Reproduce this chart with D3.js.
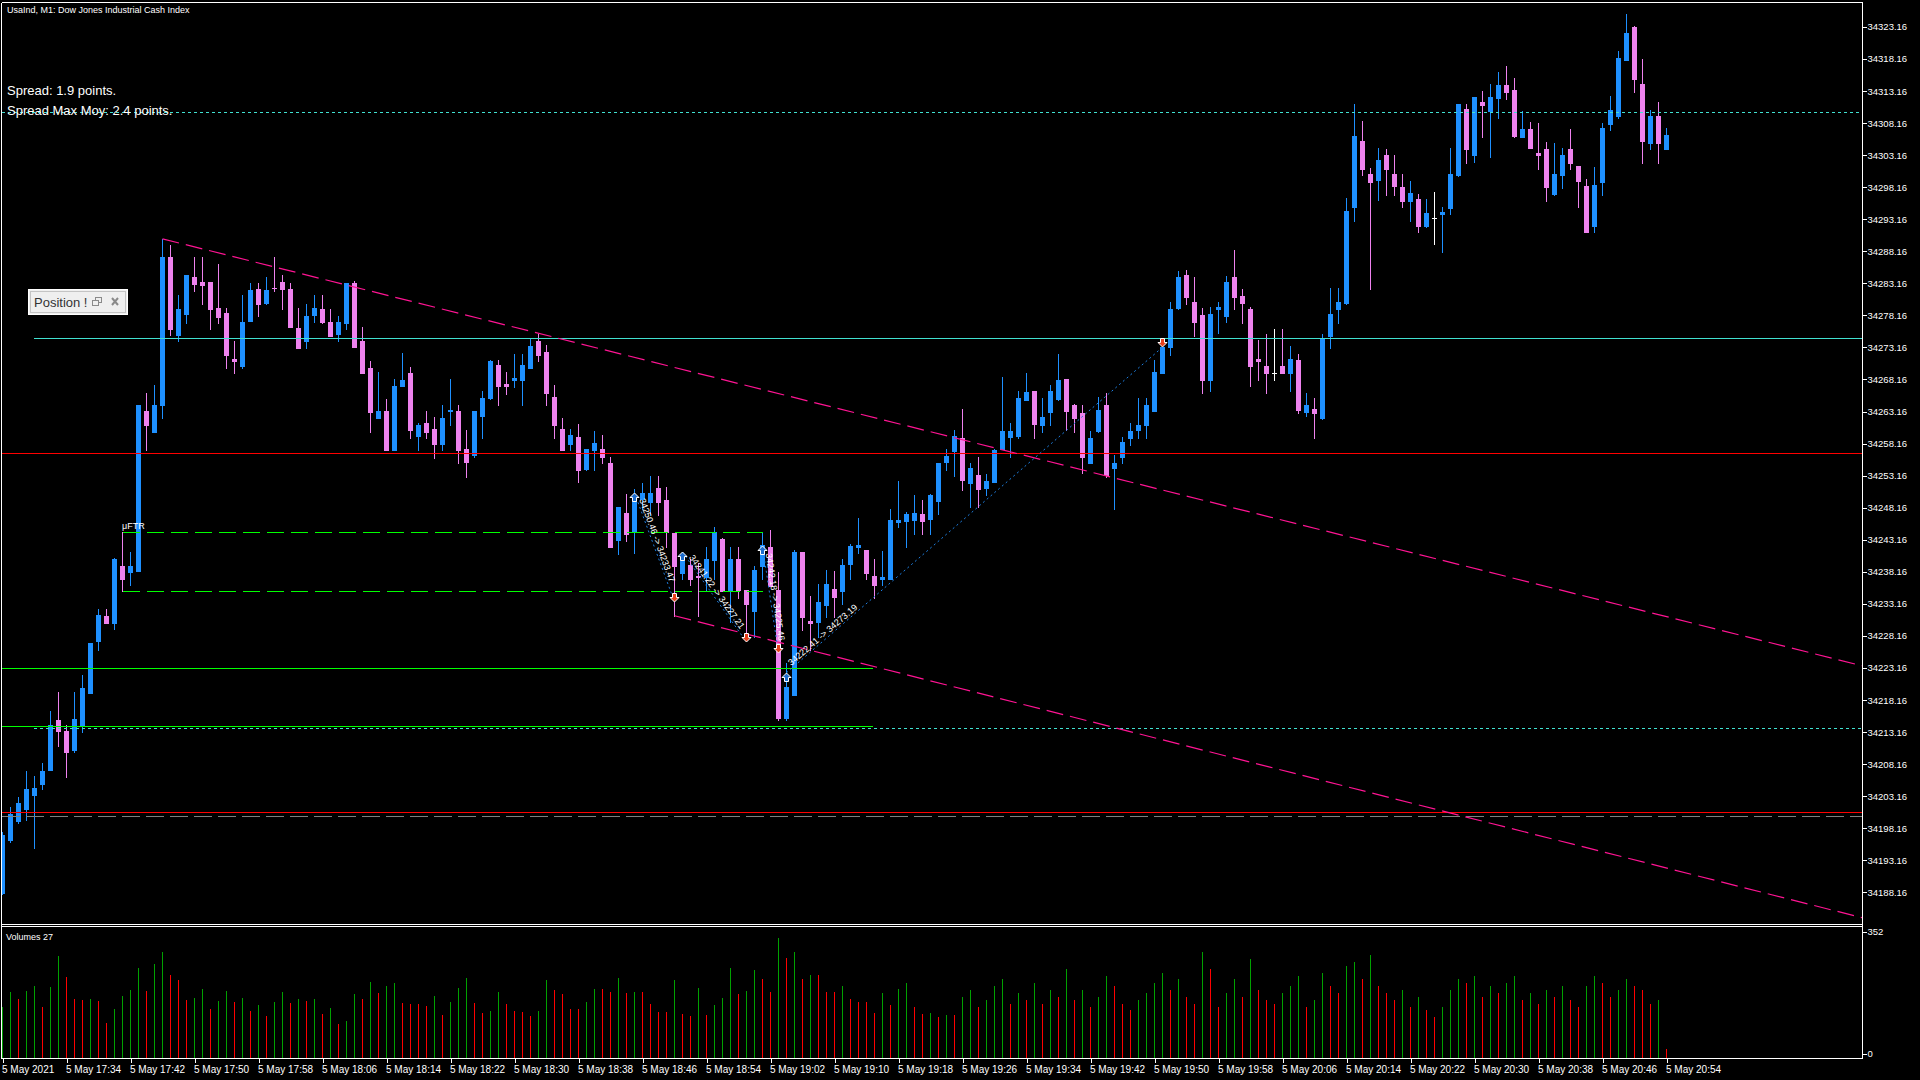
<!DOCTYPE html>
<html><head><meta charset="utf-8">
<script src="https://cdn.jsdelivr.net/npm/d3@7"></script>
<style>
html,body{margin:0;padding:0;background:#000;overflow:hidden}
svg{display:block}
text{font-family:"Liberation Sans",Arial,sans-serif}
</style>
</head><body>
<svg id="c" width="1920" height="1080"></svg>
<script>
// ---------- DATA ----------
const timeLabels = ["5 May 2021","5 May 17:34","5 May 17:42","5 May 17:50","5 May 17:58","5 May 18:06","5 May 18:14","5 May 18:22","5 May 18:30","5 May 18:38","5 May 18:46","5 May 18:54","5 May 19:02","5 May 19:10","5 May 19:18","5 May 19:26","5 May 19:34","5 May 19:42","5 May 19:50","5 May 19:58","5 May 20:06","5 May 20:14","5 May 20:22","5 May 20:30","5 May 20:38","5 May 20:46","5 May 20:54"];
const priceTicks = [34188.16,34193.16,34198.16,34203.16,34208.16,34213.16,34218.16,34223.16,34228.16,34233.16,34238.16,34243.16,34248.16,34253.16,34258.16,34263.16,34268.16,34273.16,34278.16,34283.16,34288.16,34293.16,34298.16,34303.16,34308.16,34313.16,34318.16,34323.16];
const volumeTicks = [0, 352];

const openP = [
34188.1,34196.3,34199.3,34201.1,34203.4,34205.1,34207.3,34215.1,34213.3,34210.3,
34214.3,34219.3,34227.4,34231.3,34230.2,34239.1,34238.1,34238.3,34263.3,34260.0,
34264.1,34287.3,34275.1,34278.3,34284.1,34283.3,34283.3,34279.3,34278.5,34271.4,
34270.3,34277.3,34282.3,34280.1,34282.5,34283.3,34282.3,34276.2,34274.2,34278.2,
34279.1,34277.1,34275.3,34277.0,34283.2,34274.1,34270.0,34262.1,34263.3,34257.1,
34267.1,34269.1,34259.3,34261.3,34260.4,34258.1,34263.2,34263.2,34257.3,34256.3,
34262.4,34265.2,34270.4,34267.4,34268.1,34268.1,34270.0,34274.2,34272.5,34265.4,
34260.4,34258.1,34259.2,34254.2,34257.2,34257.3,34255.2,34243.1,34247.4,34244.3,
34249.5,34249.1,34251.2,34249.3,34244.2,34238.0,34239.2,34237.5,34237.3,34240.0,
34243.3,34235.1,34240.2,34235.3,34232.1,34239.1,34242.1,34235.3,34215.3,34219.0,
34241.3,34230.5,34230.4,34233.0,34235.5,34235.2,34239.4,34242.1,34241.6,34237.5,
34237.1,34237.1,34246.0,34246.1,34246.2,34247.2,34246.4,34249.2,34255.3,34257.0,
34259.1,34252.0,34253.3,34251.3,34252.2,34257.3,34259.2,34259.3,34265.0,34266.4,
34261.1,34263.1,34265.1,34268.2,34264.1,34263.0,34255.2,34260.1,34264.1,34254.3,
34256.1,34259.1,34260.2,34261.1,34263.3,34269.1,34273.3,34279.3,34284.5,34280.2,
34278.2,34268.1,34279.2,34278.1,34284.1,34281.2,34279.1,34271.3,34270.3,34269.1,
34270.3,34269.2,34271.2,34263.1,34263.5,34262.2,34275.0,34279.1,34280.1,34295.1,
34305.4,34300.2,34299.3,34303.2,34300.2,34298.2,34296.0,34296.3,34292.1,34293.3,
34294.0,34294.9,34300.1,34310.3,34303.2,34311.4,34310.0,34312.1,34314.1,34313.3,
34306.0,34307.2,34303.5,34304.1,34297.1,34300.1,34304.1,34301.5,34298.4,34292.1,
34299.0,34308.0,34309.3,34318.0,34323.1,34314.3,34305.1,34309.3,34304.1];
const highP = [
34197.5,34201.5,34203.1,34207.1,34206.3,34208.3,34216.4,34219.4,34214.3,34219.4,
34222.1,34227.0,34232.3,34232.3,34240.3,34244.3,34241.2,34264.1,34266.1,34267.3,
34290.1,34289.1,34281.3,34284.5,34287.3,34287.3,34283.3,34286.1,34279.3,34274.1,
34281.3,34283.2,34283.2,34284.1,34287.3,34284.5,34283.2,34279.3,34280.0,34281.3,
34281.3,34279.1,34278.1,34283.2,34283.5,34276.3,34271.1,34269.3,34265.1,34268.2,
34272.3,34270.1,34261.3,34263.2,34262.3,34264.1,34268.2,34264.1,34260.3,34263.2,
34266.4,34271.2,34271.2,34269.3,34272.2,34272.2,34274.5,34275.3,34273.5,34267.3,
34262.1,34260.4,34261.2,34257.3,34260.1,34259.5,34256.1,34248.2,34250.3,34251.1,
34252.0,34253.1,34253.1,34251.4,34244.2,34241.0,34240.2,34239.5,34242.1,34245.2,
34243.5,34242.1,34242.1,34235.3,34239.1,34244.2,34244.7,34238.2,34223.9,34241.5,
34241.3,34234.4,34236.3,34238.4,34238.3,34240.2,34242.5,34246.5,34241.6,34240.2,
34241.4,34248.0,34252.3,34247.5,34250.1,34249.4,34250.3,34255.1,34257.3,34260.3,
34263.5,34255.1,34256.0,34253.4,34257.3,34268.5,34261.4,34266.3,34269.1,34266.4,
34265.2,34267.3,34272.1,34268.2,34264.4,34264.2,34260.1,34265.4,34266.1,34256.4,
34259.2,34261.4,34265.2,34265.2,34271.2,34273.3,34280.3,34285.1,34285.2,34284.1,
34279.3,34279.4,34280.3,34284.3,34288.4,34282.2,34279.4,34274.3,34275.3,34276.1,
34276.1,34273.4,34272.2,34266.1,34265.2,34275.2,34282.4,34282.4,34296.4,34311.2,
34308.5,34301.1,34304.2,34304.1,34303.2,34300.2,34299.1,34297.1,34296.3,34297.4,
34295.1,34304.2,34311.2,34311.2,34312.2,34313.2,34314.3,34316.1,34317.1,34315.2,
34310.0,34308.3,34308.1,34305.2,34305.0,34304.2,34307.2,34301.5,34299.4,34301.3,
34308.1,34312.4,34319.4,34325.2,34323.3,34318.2,34310.2,34311.4,34307.4];
const lowP = [
34187.9,34196.0,34198.9,34199.5,34195.1,34204.3,34207.3,34211.0,34206.1,34210.0,
34213.1,34219.3,34226.0,34230.1,34229.3,34235.1,34236.1,34238.3,34257.1,34260.0,
34262.1,34275.1,34274.2,34277.0,34282.0,34280.0,34276.1,34277.0,34270.0,34269.1,
34270.0,34277.3,34278.1,34280.0,34282.0,34279.1,34276.3,34273.0,34273.1,34277.1,
34277.0,34274.9,34274.1,34276.0,34273.3,34269.1,34260.0,34262.1,34257.1,34257.1,
34267.1,34259.0,34257.1,34259.0,34255.9,34257.1,34261.0,34255.1,34253.0,34256.1,
34259.1,34265.1,34264.1,34265.9,34267.0,34264.2,34270.0,34271.0,34264.1,34259.1,
34257.1,34257.1,34252.2,34254.0,34254.0,34255.1,34242.1,34241.0,34243.0,34241.1,
34248.0,34247.0,34247.0,34242.1,34231.3,34237.1,34236.1,34231.2,34235.1,34237.1,
34235.1,34230.4,34234.0,34227.5,34228.0,34237.1,34236.0,34215.1,34215.1,34219.0,
34229.1,34226.0,34228.0,34231.1,34231.1,34233.2,34237.1,34241.1,34237.1,34234.1,
34236.1,34237.1,34245.1,34242.1,34244.0,34244.0,34244.0,34247.2,34254.0,34253.1,
34250.9,34248.2,34248.2,34250.1,34252.2,34257.3,34256.1,34259.1,34265.0,34259.1,
34260.0,34261.1,34265.0,34260.3,34260.0,34253.5,34255.2,34260.0,34253.0,34248.0,
34255.1,34258.0,34259.1,34259.1,34263.3,34269.1,34272.0,34279.1,34279.9,34274.9,
34266.1,34266.3,34275.4,34277.2,34279.1,34277.0,34267.2,34268.0,34266.1,34268.1,
34269.1,34266.4,34263.0,34262.4,34259.1,34262.0,34273.1,34277.0,34280.0,34292.9,
34300.1,34282.3,34296.2,34296.9,34296.9,34295.0,34292.9,34291.1,34292.0,34289.3,
34288.1,34294.0,34299.9,34302.0,34302.1,34306.0,34302.9,34309.0,34311.9,34306.0,
34306.0,34304.2,34301.0,34296.0,34296.9,34298.1,34301.0,34295.0,34291.1,34291.1,
34296.9,34307.0,34309.0,34318.0,34313.0,34302.0,34304.1,34302.0,34304.1];
const closeP = [
34197.1,34200.3,34202.1,34204.3,34204.4,34207.1,34214.3,34213.3,34210.1,34215.2,
34220.1,34227.0,34231.4,34230.1,34240.1,34237.1,34239.1,34264.1,34261.1,34264.1,
34287.3,34276.0,34279.1,34284.5,34283.1,34282.9,34279.1,34277.9,34272.0,34271.1,
34277.1,34282.1,34280.0,34282.1,34282.4,34282.2,34276.3,34273.1,34278.1,34279.3,
34277.1,34274.9,34277.1,34283.2,34273.3,34269.1,34263.1,34263.2,34257.1,34267.2,
34268.1,34260.2,34261.1,34260.0,34258.1,34262.1,34263.4,34257.1,34255.3,34263.2,
34265.3,34271.0,34267.2,34267.2,34268.4,34270.4,34273.4,34272.0,34266.1,34261.0,
34257.1,34259.5,34254.0,34257.3,34258.2,34256.1,34242.1,34248.2,34244.0,34249.5,
34250.5,34250.4,34249.1,34244.3,34239.1,34240.2,34237.1,34237.3,34240.2,34244.3,
34235.1,34240.2,34235.3,34233.2,34238.5,34242.3,34236.0,34215.3,34220.2,34241.3,
34231.1,34230.1,34233.5,34236.2,34234.3,34239.2,34242.2,34242.3,34238.0,34236.1,
34237.3,34246.3,34246.2,34247.2,34247.3,34246.1,34250.1,34255.1,34256.2,34259.3,
34252.4,34254.3,34251.1,34252.3,34257.1,34260.1,34260.1,34265.2,34266.2,34261.2,
34262.3,34266.3,34268.0,34263.3,34262.2,34256.1,34259.1,34263.4,34253.3,34255.2,
34258.4,34260.1,34261.1,34264.1,34269.3,34273.2,34279.1,34284.1,34281.1,34277.2,
34268.1,34278.4,34279.4,34283.4,34281.1,34280.1,34270.3,34271.1,34269.1,34269.1,
34269.1,34271.3,34263.4,34264.1,34263.0,34274.5,34278.3,34280.2,34294.5,34306.1,
34301.0,34299.0,34302.4,34301.0,34298.4,34296.0,34297.3,34292.1,34294.1,34293.3,
34294.3,34300.2,34311.2,34304.1,34312.2,34311.0,34312.3,34314.1,34313.0,34306.1,
34307.2,34304.2,34303.1,34298.2,34300.2,34303.2,34302.0,34299.1,34291.2,34298.5,
34307.4,34310.2,34318.3,34322.2,34315.0,34305.4,34309.3,34305.1,34306.3];
const volumes = [
150,194,174,197,212,150,208,299,237,174,
171,174,168,104,145,182,200,264,197,276,
309,244,229,171,177,203,145,168,197,165,
177,139,156,124,165,194,162,174,168,174,
130,147,101,109,188,174,224,191,212,220,
162,159,159,153,183,127,165,206,235,162,
133,139,194,159,139,136,124,139,229,200,
188,145,145,165,203,203,194,235,191,194,
194,159,136,136,229,130,124,206,127,156,
177,264,188,197,258,232,194,352,291,311,
232,244,244,194,194,212,174,165,165,133,
191,156,203,220,150,130,133,121,127,127,
180,200,150,170,210,230,160,190,170,220,
160,200,180,260,170,200,150,180,240,210,
160,140,170,190,220,250,200,230,180,160,
310,260,150,190,230,180,290,200,170,160,
190,210,240,150,170,250,210,190,270,280,
230,300,210,190,170,200,150,180,140,120,
150,200,230,220,240,180,210,190,220,240,
170,190,160,200,180,210,170,150,210,240,
220,180,200,230,210,200,160,170,27];

// horizontal levels (price) and the bar index where each starts / ends
const spreadMaxLevel = [34309.84];
const cyanLevels = [34274.60];
const cyanDotLevels = [34213.73];
const redLevels = [34256.66, 34200.73];
const grayLevels = [34200.03];
const greenLevels = [34223.10, 34214.10];
const greenLevelEnd = [108.8];
const boxLevels = [34244.3, 34235.1];   // dashed box of bar 15
const boxFrom = [15], boxTo = [95];
const cyanFrom = [3.94];
// trend lines: two anchors each (bar index, price)
const trendIdx0 = [20, 84], trendP0 = [34290.1, 34231.3];
const trendIdx1 = [232.44, 232.44], trendP1 = [34223.5, 34184.2];
// trades
const tradeOpenIdx = [79, 85, 95, 98];
const tradeOpenPrice = [34250.46, 34241.22, 34242.18, 34222.41];
const tradeCloseIdx = [84, 93, 97, 145];
const tradeClosePrice = [34233.47, 34227.21, 34225.46, 34273.19];

// ---------- DRAW ----------
const svg = d3.select('#c');
svg.append('rect').attr('width',1920).attr('height',1080).attr('fill','#000');
const x = d3.scaleLinear().domain([0, 232.5]).range([2.5, 1862.5]);
const y = d3.scaleLinear().domain([34188.16, 34323.16]).range([892.3, 26.9]);
const yv = d3.scaleLinear().domain([0, 352]).range([1058.5, 937.5]);
const yvAxisScale = d3.scaleLinear().domain([0, 352]).range([1053.8, 931.5]);
const ly = p => Math.round(y(p)) + 0.5;

const defs = svg.append('defs');
defs.append('clipPath').attr('id','mainClip').append('rect').attr('x',2).attr('y',3).attr('width',1860).attr('height',921);
defs.append('clipPath').attr('id','volClip').append('rect').attr('x',2).attr('y',927).attr('width',1860).attr('height',131);

const main = svg.append('g').attr('clip-path','url(#mainClip)');
const BULL = '#1E90FF', BEAR = '#EE82EE';
const idx = d3.range(openP.length);

// candles
const cg = main.append('g').attr('shape-rendering','crispEdges');
idx.forEach(i => {
  const o = openP[i], c = closeP[i], h = highP[i], l = lowP[i];
  const col = o === c ? '#FFFFFF' : (c > o ? BULL : BEAR);
  const xc = x(i);
  const yh = Math.round(y(h)), yl = Math.round(y(l));
  cg.append('rect').attr('x', xc - 0.5).attr('y', yh).attr('width', 1).attr('height', Math.max(1, yl - yh + 1)).attr('fill', col);
  const yt = Math.round(y(Math.max(o, c))), yb = Math.round(y(Math.min(o, c)));
  cg.append('rect').attr('x', xc - 2.5).attr('y', yt).attr('width', 5).attr('height', Math.max(1, yb - yt + 1)).attr('fill', col);
});

// horizontal lines
const lg = main.append('g').attr('shape-rendering','crispEdges');
function hline(p, x0, x1, color, dash, w) {
  lg.append('line').attr('x1', x0).attr('x2', x1).attr('y1', ly(p)).attr('y2', ly(p))
    .attr('stroke', color).attr('stroke-width', w || 1).attr('stroke-dasharray', dash || null);
}
spreadMaxLevel.forEach(p => hline(p, 2, 1862, '#40E0D0', '3,3'));
cyanLevels.forEach(p => hline(p, x(cyanFrom[0]), 1862, '#40E0D0'));
cyanDotLevels.forEach(p => hline(p, x(cyanFrom[0]), 1862, '#40E0D0', '3,3'));
redLevels.forEach(p => hline(p, 2, 1862, '#FF0000'));
grayLevels.forEach(p => hline(p, 2, 1862, '#808080', '18,6'));
greenLevels.forEach(p => hline(p, 2, x(greenLevelEnd[0]), '#00FF00'));
boxLevels.forEach(p => hline(p, x(boxFrom[0]), x(boxTo[0]), '#00FF00', '17,7', 1.5));

// trend lines
trendIdx0.forEach((i0, k) => {
  main.append('line').attr('x1', x(i0)).attr('y1', y(trendP0[k])).attr('x2', x(trendIdx1[k])).attr('y2', y(trendP1[k]))
    .attr('stroke', '#FF1493').attr('stroke-width', 1.2).attr('stroke-dasharray', '17,7');
});

// trades
const tg = main.append('g');
tradeOpenIdx.forEach((oi, k) => {
  const x0 = x(oi), y0 = y(tradeOpenPrice[k]), x1 = x(tradeCloseIdx[k]), y1 = y(tradeClosePrice[k]);
  tg.append('line').attr('x1', x0).attr('y1', y0).attr('x2', x1).attr('y2', y1)
    .attr('stroke', '#1E7FE0').attr('stroke-width', 1).attr('stroke-dasharray', '2,3');
  const ang = Math.atan2(y1 - y0, x1 - x0) * 180 / Math.PI;
  tg.append('text').attr('transform', `translate(${x0},${y0}) rotate(${ang})`)
    .attr('x', 8).attr('y', -2).attr('fill', '#FFFFFF').attr('font-size', '9px')
    .text(tradeOpenPrice[k].toFixed(2) + ' -> ' + tradeClosePrice[k].toFixed(2));
});
tradeOpenIdx.forEach((oi, k) => {
  tg.append('path').attr('transform', `translate(${x(oi)},${Math.round(y(tradeOpenPrice[k]))})`)
    .attr('d', 'M0,0 L4.5,4.5 L2,4.5 L2,8.5 L-2,8.5 L-2,4.5 L-4.5,4.5 Z')
    .attr('fill', '#1E6ED0').attr('stroke', '#FFFFFF').attr('stroke-width', 1);
  tg.append('path').attr('transform', `translate(${x(tradeCloseIdx[k])},${Math.round(y(tradeClosePrice[k]))})`)
    .attr('d', 'M0,0 L4.5,-4.5 L2,-4.5 L2,-8.5 L-2,-8.5 L-2,-4.5 L-4.5,-4.5 Z')
    .attr('fill', '#E8401C').attr('stroke', '#FFFFFF').attr('stroke-width', 1);
});

// uFTR label
main.append('text').attr('x', x(boxFrom[0]) - 0.5).attr('y', ly(boxLevels[0]) - 4)
  .attr('fill', '#FFFFFF').attr('font-size', '9px').text('\u03BCFTR');

// volumes
const vg = svg.append('g').attr('clip-path','url(#volClip)').attr('shape-rendering','crispEdges');
idx.forEach(i => {
  const v = volumes[i];
  const col = (i > 0 && v > volumes[i - 1]) || i === 0 ? '#00A000' : '#FF0000';
  const top = Math.round(yv(v));
  vg.append('rect').attr('x', x(i) - 0.5).attr('y', top).attr('width', 1).attr('height', 1058 - top).attr('fill', col);
});

// frames
const fg = svg.append('g').attr('stroke', '#FFFFFF').attr('stroke-width', 1).attr('shape-rendering','crispEdges');
[[1.5,2.5,1862.5,2.5],[1.5,2.5,1.5,1058.5],[1862.5,2.5,1862.5,1058.5],[1.5,924.5,1862.5,924.5],[1.5,926.5,1862.5,926.5],[1.5,1058.5,1862.5,1058.5]]
  .forEach(s => fg.append('line').attr('x1', s[0]).attr('y1', s[1]).attr('x2', s[2]).attr('y2', s[3]));

// axes
function styleAxis(g) {
  g.select('.domain').remove();
  g.selectAll('line').attr('stroke', '#FFFFFF').attr('shape-rendering','crispEdges');
  g.selectAll('text').attr('fill', '#FFFFFF').style('font-family', '"Liberation Sans",Arial,sans-serif');
}
const pa = svg.append('g').attr('transform', 'translate(1862.5,0)')
  .call(d3.axisRight(y).tickValues(priceTicks).tickSize(4).tickPadding(1).tickFormat(d => d.toFixed(2)));
styleAxis(pa); pa.selectAll('text').style('font-size', '9.5px');
const va = svg.append('g').attr('transform', 'translate(1862.5,0)')
  .call(d3.axisRight(yvAxisScale).tickValues(volumeTicks).tickSize(4).tickPadding(1).tickFormat(d3.format('d')));
styleAxis(va); va.selectAll('text').style('font-size', '9.5px');
const labelIdx = timeLabels.map((_, k) => k * 8);
const ta = svg.append('g').attr('transform', 'translate(0,1058.5)')
  .call(d3.axisBottom(x).tickValues(labelIdx).tickSize(4).tickPadding(3).tickFormat((d, k) => timeLabels[k]));
styleAxis(ta); ta.selectAll('text').attr('text-anchor', 'start').attr('x', -1).style('font-size', '10px');

// texts
svg.append('text').attr('x', 7).attr('y', 12.5).attr('fill', '#FFFFFF').attr('font-size', '9px')
  .text('UsaInd, M1:  Dow Jones Industrial Cash Index');
svg.append('text').attr('x', 7).attr('y', 95).attr('fill', '#FFFFFF').attr('font-size', '13px').text('Spread: 1.9 points.');
svg.append('text').attr('x', 7).attr('y', 115).attr('fill', '#FFFFFF').attr('font-size', '13px').text('Spread Max Moy: 2.4 points.');
svg.append('text').attr('x', 6).attr('y', 940).attr('fill', '#FFFFFF').attr('font-size', '9px').text('Volumes ' + volumes[volumes.length - 1]);

// Position panel
const pp = svg.append('g');
pp.append('rect').attr('x', 28.5).attr('y', 289.5).attr('width', 99).attr('height', 25).attr('fill', '#EFEFEF').attr('stroke', '#FFFFFF');
pp.append('rect').attr('x', 30.5).attr('y', 291.5).attr('width', 95).attr('height', 21).attr('fill', 'none').attr('stroke', '#C4C4C4');
pp.append('text').attr('x', 34).attr('y', 307).attr('fill', '#333333').attr('font-size', '13px').text('Position !');
pp.append('rect').attr('x', 95.5).attr('y', 297.5).attr('width', 6).attr('height', 5).attr('fill', 'none').attr('stroke', '#8A8A8A');
pp.append('rect').attr('x', 92.5).attr('y', 300.5).attr('width', 6).attr('height', 5).attr('fill', '#EFEFEF').attr('stroke', '#8A8A8A');
pp.append('path').attr('d', 'M112,298 L118,305 M118,298 L112,305').attr('stroke', '#8A8A8A').attr('stroke-width', 2);
</script>
</body></html>
